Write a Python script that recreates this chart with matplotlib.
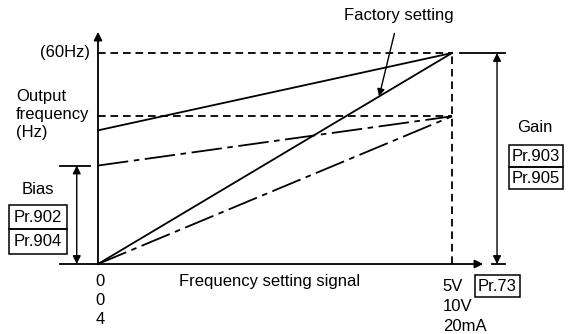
import matplotlib.pyplot as plt
from matplotlib.patches import Rectangle

plt.rcParams['font.family'] = ['Liberation Sans', 'DejaVu Sans']
plt.rcParams['lines.scale_dashes'] = False

# frequency setting signal (V) at the two ends of each characteristic
signal = [0, 5]
# output frequency (Hz): bias at 0 V, gain at 5 V
solid_bias = [38, 0]
solid_gain = [60, 60]
dashdot_bias = [28, 0]
dashdot_gain = [42, 42]
gain_levels = [60, 42]
left_ticks = ['0', '0', '4']
right_ticks = ['5V', '10V', '20mA']

FS = 12
K = 'black'


def dbl_arrow(ax, x, y0, y1, bar0, bar1):
    # double headed arrow between two horizontal bars
    ax.plot(bar0, [y0, y0], color=K, lw=1.3)
    ax.plot(bar1, [y1, y1], color=K, lw=1.3)
    ax.annotate('', xy=(x, y1), xytext=(x, y0),
                arrowprops=dict(arrowstyle='<|-|>', color=K, lw=1.0,
                                mutation_scale=12, shrinkA=0, shrinkB=0))


def boxed(ax, x0, x1, y0, y1, labels):
    n = len(labels)
    h = (y1 - y0) / n
    for i, lab in enumerate(labels):
        yb = y1 - (i + 1) * h
        ax.add_patch(Rectangle((x0, yb), x1 - x0, h, fill=False, ec=K, lw=1.1))
        ax.text((x0 + x1) / 2, yb + h / 2, lab, ha='center', va='center', fontsize=FS)


fig = plt.figure(figsize=(5.73, 3.34), dpi=100)
ax = fig.add_axes([0, 0, 1, 1])
ax.set_xlim(-1.384, 6.709)
ax.set_ylim(-19.9, 75.07)
ax.axis('off')

# axes with arrows
ax.annotate('', xy=(5.44, 0), xytext=(-0.1, 0),
            arrowprops=dict(arrowstyle='-|>', color=K, lw=1.3, mutation_scale=12,
                            shrinkA=0, shrinkB=0))
ax.annotate('', xy=(0, 66), xytext=(0, 0),
            arrowprops=dict(arrowstyle='-|>', color=K, lw=1.3, mutation_scale=12,
                            shrinkA=0, shrinkB=0))

# dashed guide lines for the gain levels
for g in gain_levels:
    ax.plot(signal, [g, g], color=K, lw=1.3, ls=(0, (5.5, 3.5)))
ax.plot([signal[1]] * 2, [0, max(gain_levels)], color=K, lw=1.3, ls=(0, (5.5, 3.5)))

# characteristics: solid to 60 Hz, dash-dot to the lower gain
for b in solid_bias:
    ax.plot(signal, [b, solid_gain[1]], color=K, lw=1.3)
for b in dashdot_bias:
    ax.plot(signal, [b, dashdot_gain[1]], color=K, lw=1.3, ls=(0, (22, 4, 4, 4)))

# labels on the y side
ax.text(-0.11, 60, '(60Hz)', ha='right', va='center', fontsize=FS)
ax.text(-1.16, 42.4, 'Output\nfrequency\n(Hz)', ha='left', va='center',
        fontsize=FS, linespacing=1.25)

# bias
dbl_arrow(ax, -0.30, 0, dashdot_bias[0], [-0.54, -0.11], [-0.54, -0.11])
ax.text(-0.85, 21.3, 'Bias', ha='center', va='center', fontsize=FS)
boxed(ax, -1.257, -0.438, 2.84, 16.8, ['Pr.902', 'Pr.904'])

# gain
dbl_arrow(ax, 5.636, 0, solid_gain[1], [5.565, 5.75], [5.11, 5.75])
ax.text(6.17, 38.7, 'Gain', ha='center', va='center', fontsize=FS)
boxed(ax, 5.805, 6.568, 21.3, 33.8, ['Pr.903', 'Pr.905'])

# x side labels
for i, t in enumerate(left_ticks):
    ax.text(0.03, -5.1 - 5.4 * i, t, ha='center', va='center', fontsize=FS)
for i, t in enumerate(right_ticks):
    ax.text(4.87, -6.5 - 5.7 * i, t, ha='left', va='center', fontsize=FS)
ax.text(2.43, -5.1, 'Frequency setting signal', ha='center', va='center', fontsize=FS)
boxed(ax, 5.325, 5.96, -9.38, -3.13, ['Pr.73'])

# factory setting pointer
fx = 3.97
ax.annotate('Factory setting', xy=(fx, solid_gain[1] * fx / signal[1]),
            xytext=(4.25, 70.8), ha='center', va='center', fontsize=FS,
            arrowprops=dict(arrowstyle='-|>', color=K, lw=1.0, mutation_scale=11,
                            shrinkA=6, shrinkB=0))

fig.savefig('out.png', dpi=100)
